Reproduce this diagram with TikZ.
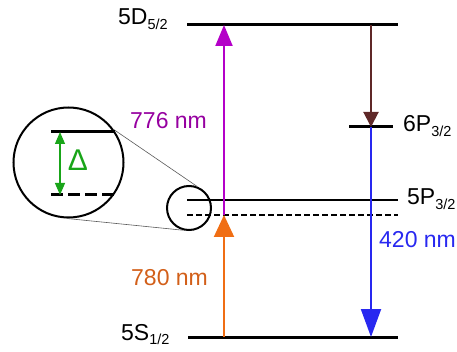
\documentclass[tikz,border=0pt]{standalone}
\usepackage{fontspec}
\setmainfont{Liberation Sans}
\usetikzlibrary{arrows.meta}
\definecolor{exciteline}{RGB}{180,0,200}
\definecolor{excitetext}{RGB}{150,0,160}
\definecolor{decayline}{RGB}{95,40,40}
\definecolor{blueline}{RGB}{40,40,240}
\definecolor{pumpline}{RGB}{240,110,20}
\definecolor{pumptext}{RGB}{210,95,25}
\definecolor{detuneline}{RGB}{25,165,25}

\newcommand{\statelbl}[2]{#1\raisebox{-4.5pt}{\fontsize{14.5}{15}\selectfont #2}}

\begin{document}
\begin{tikzpicture}[x=1pt,y=-1pt,
  level/.style={line width=3pt},
  thinlevel/.style={line width=2pt},
  lbl/.style={font=\fontsize{23}{27}\selectfont, anchor=base west, inner sep=0pt},
  transition/.style={line width=2pt}
]
  \useasboundingbox (0,0) rectangle (457,352);

  % energy levels
  \coordinate (d5l) at (187,25);  \coordinate (d5r) at (398,25);
  \coordinate (p6l) at (349,127); \coordinate (p6r) at (393,127);
  \coordinate (p5l) at (187,200); \coordinate (p5r) at (398,200);
  \coordinate (vtl) at (187,215); \coordinate (vtr) at (398,215);
  \coordinate (s5l) at (188,337); \coordinate (s5r) at (398,337);

  \draw[level] (d5l) -- (d5r);
  \draw[level] (p6l) -- (p6r);
  \draw[thinlevel] (p5l) -- (p5r);
  \draw[line width=1.5pt, dash pattern=on 6pt off 3pt] (vtl) -- (vtr);
  \draw[level] (s5l) -- (s5r);

  % transitions
  \coordinate (d5a) at (224,25);  \coordinate (d5b) at (371,25);
  \coordinate (p6a) at (371,127);
  \coordinate (vta) at (224,215);
  \coordinate (s5a) at (224,337); \coordinate (s5b) at (371,337);

  \draw[transition, pumpline, -{Triangle[width=20pt,length=22pt,fill=pumpline]}] (s5a) -- (vta);
  \draw[transition, exciteline, -{Triangle[width=17pt,length=21pt,fill=exciteline]}] (vta) -- (d5a);
  \draw[transition, decayline, -{Triangle[width=15pt,length=15pt,fill=decayline]}] (d5b) -- (p6a);
  \draw[transition, blueline, -{Triangle[width=20pt,length=28pt,fill=blueline]}] (p6a) -- (s5b);

  % labels
  \node[lbl] (lblD) at (118,25) {\statelbl{5D}{5/2}};
  \node[lbl] (lblPsix) at (403,132) {\statelbl{6P}{3/2}};
  \node[lbl] (lblP) at (407,205) {\statelbl{5P}{3/2}};
  \node[lbl] (lblS) at (121,340) {\statelbl{5S}{1/2}};
  \node[lbl, text=excitetext] (lblup) at (130,129) {776 nm};
  \node[lbl, text=pumptext] (lblpump) at (131,285) {780 nm};
  \node[lbl, text=blueline] (lbldown) at (379,248) {420 nm};

  % zoomed detuning
  \node[circle, draw, line width=2pt, minimum size=44pt, inner sep=0pt] (zsmall) at (189,208) {};
  \node[circle, draw, line width=2pt, minimum size=110pt, inner sep=0pt] (zbig) at (68.5,162.5) {};
  \draw[gray!70!black, line width=0.6pt] (zbig.36) -- (zsmall.69);
  \draw[gray!70!black, line width=0.6pt] (zbig.268) -- (zsmall.255);

  \coordinate (zul) at (51,132);  \coordinate (zur) at (115,132);
  \coordinate (zdl) at (51,195);  \coordinate (zdr) at (115,195);
  \coordinate (zau) at (60,132);  \coordinate (zad) at (60,195);
  \draw[level] (zul) -- (zur);
  \draw[level, dash pattern=on 12pt off 5pt] (zdl) -- (zdr);
  \draw[detuneline, line width=1.2pt, {Triangle[width=10pt,length=12pt,fill=detuneline]}-{Triangle[width=10pt,length=12pt,fill=detuneline]}] (zau) -- (zad);
  \node[font=\fontsize{30}{32}\selectfont, text=detuneline, inner sep=0pt] (delta) at (78,160) {Δ};
\end{tikzpicture}
\end{document}
